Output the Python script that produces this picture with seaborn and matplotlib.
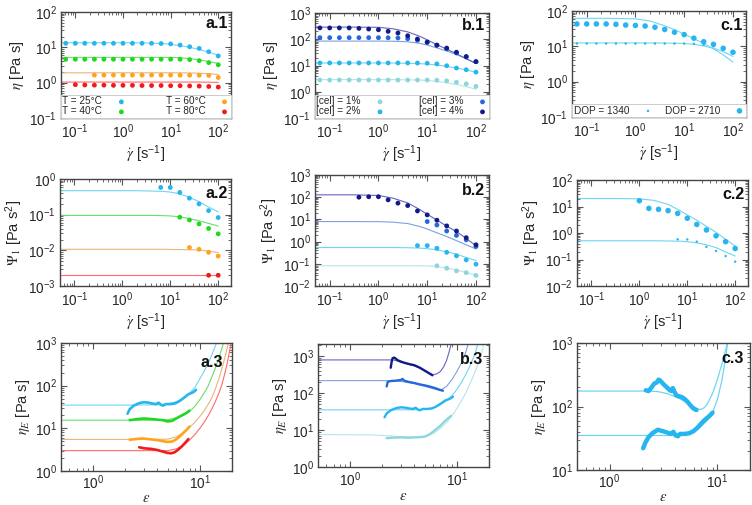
import matplotlib
matplotlib.use('Agg')
import matplotlib.pyplot as plt
import seaborn as sns
from matplotlib.ticker import LogLocator, NullFormatter

sns.set_theme(style='ticks')
plt.rcParams['font.family'] = ['Liberation Sans', 'DejaVu Sans']
plt.rcParams['mathtext.fontset'] = 'stix'

# ---------------- DATA ----------------
# shear-rate grid of the measured points (row 1)
gd = [0.063, 0.1, 0.158, 0.251, 0.398, 0.631, 1.0, 1.58, 2.51, 3.98, 6.31, 10.0, 15.8, 25.1, 39.8, 63.1, 100.0]
# shear-rate grid at which model curves were read (rows 1-2)
gl = [0.05, 0.1, 0.3, 1.0, 2.0, 4.0, 7.0, 10.0, 15.0, 25.0, 40.0, 60.0, 100.0]

temp_labels = ['T = 25°C', 'T = 40°C', 'T = 60°C', 'T = 80°C']
cel_labels = ['[cel] = 1%', '[cel] = 2%', '[cel] = 3%', '[cel] = 4%']
dop_labels = ['DOP = 1340', 'DOP = 2710']

# a.1 viscosity
a1_25 = [13, 13, 13, 13, 13, 13, 13, 13, 13, 13, 12.8, 12.5, 11.6, 10.4, 9.3, 7.5, 5.7]
a1_40 = [4.6, 4.6, 4.6, 4.6, 4.6, 4.6, 4.6, 4.6, 4.6, 4.6, 4.6, 4.6, 4.6, 4.5, 4.2, 3.7, 3.2]
a1_60 = [1.64, 1.64, 1.64, 1.64, 1.64, 1.64, 1.64, 1.64, 1.64, 1.63, 1.63, 1.62, 1.6, 1.4]
a1_80 = [0.88, 0.86, 0.85, 0.85, 0.84, 0.84, 0.84, 0.83, 0.83, 0.83, 0.82, 0.82, 0.81, 0.8, 0.78, 0.75]
a1_25_fit = [13.5, 13.5, 13.5, 13.5, 13.4, 13.2, 12.7, 12.2, 11.3, 10.0, 8.7, 7.5, 6.0]
a1_40_fit = [5.2, 5.2, 5.2, 5.2, 5.2, 5.2, 5.2, 5.2, 5.1, 4.8, 4.4, 4.0, 3.5]
a1_60_fit = [1.9, 1.9, 1.9, 1.9, 1.9, 1.9, 1.9, 1.9, 1.9, 1.88, 1.85, 1.8, 1.7]
a1_80_fit = [1.04, 1.04, 1.04, 1.04, 1.04, 1.04, 1.04, 1.04, 1.04, 1.04, 1.04, 1.03, 1.02]

# b.1 viscosity
b1_1 = [2.8, 2.8, 2.8, 2.8, 2.8, 2.8, 2.8, 2.8, 2.8, 2.8, 2.8, 2.8, 2.75, 2.6, 2.3, 2.0, 1.6]
b1_2 = [12.5, 12.5, 12.5, 12.5, 12.5, 12.5, 12.5, 12.5, 12.5, 12.5, 12.4, 12.2, 11.5, 9.8, 8.0, 6.9, 5.6]
b1_3 = [115, 115, 115, 115, 115, 115, 115, 114, 112, 105, 91, 76, 59, 43, 30, 21, 14]
b1_4 = [270, 270, 270, 270, 260, 245, 230, 200, 173, 136, 102, 78, 60, 46, 32, 22, 14]
b1_1_fit = [2.9, 2.9, 2.9, 2.9, 2.9, 2.85, 2.8, 2.7, 2.5, 2.2, 1.9, 1.6, 1.25]
b1_2_fit = [12.5, 12.5, 12.5, 12.5, 12.4, 12.2, 11.8, 11.3, 10.5, 9.2, 8.0, 6.9, 5.5]
b1_3_fit = [85, 85, 85, 85, 84, 80, 70, 60, 48, 36, 26, 19, 12]
b1_4_fit = [290, 290, 290, 285, 250, 190, 130, 95, 65, 42, 28, 19, 12]

# c.1 viscosity
c1_1340 = [12, 12, 12, 12, 12, 12, 12, 12, 12, 12, 12, 12, 11.8, 11, 10, 8.5, 7]
c1_2710 = [43, 43, 43, 43, 42, 40, 39, 37.6, 34.6, 30, 25, 21.5, 17, 13.5, 11.4, 8.8, 6.8]
c1_1340_fit = [12.5, 12.5, 12.5, 12.5, 12.5, 12.4, 12.2, 12.0, 11.5, 10.3, 8.8, 7.3, 5.2]
c1_2710_fit = [62, 62, 62, 60, 52, 38, 28, 22, 17, 12, 8.5, 6, 3.6]

# a.2 first normal stress coefficient
a2_25_x = [6.31, 10.0, 15.8, 25.1, 39.8, 63.1, 100.0]
a2_25 = [0.58, 0.58, 0.42, 0.29, 0.2, 0.13, 0.083]
a2_40_x = [15.8, 25.1, 39.8, 63.1, 100.0]
a2_40 = [0.085, 0.071, 0.055, 0.041, 0.029]
a2_60_x = [25.1, 39.8, 63.1, 100.0]
a2_60 = [0.012, 0.0107, 0.0088, 0.0069]
a2_80_x = [63.1, 100.0]
a2_80 = [0.002, 0.002]
a2_25_fit = [0.47, 0.47, 0.47, 0.47, 0.47, 0.46, 0.45, 0.43, 0.39, 0.31, 0.23, 0.17, 0.12]
a2_40_fit = [0.095, 0.095, 0.095, 0.095, 0.095, 0.095, 0.094, 0.092, 0.088, 0.078, 0.067, 0.058, 0.048]
a2_60_fit = [0.0107, 0.0107, 0.0107, 0.0107, 0.0107, 0.0107, 0.0107, 0.0106, 0.0105, 0.0104, 0.0102, 0.0096, 0.0087]
a2_80_fit = [0.0021, 0.0021, 0.0021, 0.0021, 0.0021, 0.0021, 0.0021, 0.0021, 0.0021, 0.0021, 0.0021, 0.0021, 0.0021]

# b.2
b2_1_x = [15.8, 25.1, 39.8, 63.1, 100.0]
b2_1 = [0.081, 0.063, 0.048, 0.04, 0.03]
b2_2_x = [6.31, 10.0, 15.8, 25.1, 39.8, 63.1, 100.0]
b2_2 = [0.66, 0.66, 0.5, 0.33, 0.23, 0.15, 0.096]
b2_3_x = [10.0, 15.8, 25.1, 39.8, 63.1, 100.0]
b2_3 = [8.0, 5.6, 3.0, 1.9, 1.2, 0.6]
b2_4_x = [0.398, 0.631, 1.0, 1.58, 2.51, 3.98, 6.31, 10.0, 15.8, 25.1, 39.8, 63.1, 100.0]
b2_4 = [100, 105, 105, 76, 54, 42, 24, 16, 9.2, 5.1, 3.0, 1.5, 0.72]
b2_1_fit = [0.082, 0.082, 0.082, 0.082, 0.082, 0.082, 0.081, 0.08, 0.075, 0.065, 0.053, 0.042, 0.031]
b2_2_fit = [0.54, 0.54, 0.54, 0.54, 0.54, 0.53, 0.51, 0.48, 0.43, 0.35, 0.27, 0.2, 0.14]
b2_3_fit = [8, 8, 8, 7.9, 7.5, 6.5, 4.8, 3.7, 2.6, 1.7, 1.1, 0.75, 0.47]
b2_4_fit = [128, 128, 128, 120, 90, 55, 28, 17, 10, 5, 2.8, 1.5, 0.65]

# c.2
c2_1340_x = [6.31, 10.0, 15.8, 25.1, 39.8, 63.1, 100.0]
c2_1340 = [0.58, 0.57, 0.47, 0.3, 0.21, 0.135, 0.083]
c2_2710_x = [1.0, 1.58, 2.51, 3.98, 6.31, 10.0, 15.8, 25.1, 39.8, 63.1, 100.0]
c2_2710 = [16.5, 8.5, 7.8, 7.0, 5.5, 3.6, 2.1, 1.3, 0.78, 0.47, 0.26]
c2_1340_fit = [0.51, 0.51, 0.51, 0.51, 0.51, 0.5, 0.49, 0.47, 0.43, 0.36, 0.28, 0.2, 0.135]
c2_2710_fit = [20, 20, 20, 19.5, 17, 12, 7, 4.8, 3.2, 1.8, 1.05, 0.62, 0.32]

# a.3 extensional viscosity: model curves
a3_25_fit_e = [0.5, 2, 4, 5, 6, 7, 8, 9, 10, 11, 12, 13, 14, 15]
a3_25_fit = [35, 35, 35.5, 37.5, 42, 50, 66, 92, 145, 220, 340, 540, 860, 1400]
a3_40_fit_e = [0.5, 3, 4, 5, 6, 7, 8, 9, 10, 11, 12, 13, 14, 15, 16, 17]
a3_40_fit = [15.5, 15.5, 15.6, 16, 17.5, 20, 25, 33, 47, 68, 100, 165, 265, 430, 720, 1200]
a3_60_fit_e = [0.5, 3, 4, 5, 6, 7, 8, 9, 10, 11, 12, 13, 14, 15, 16, 17, 18, 19]
a3_60_fit = [5.5, 5.5, 5.5, 5.6, 6.3, 7.8, 10.5, 14, 19, 26, 37, 53, 85, 140, 240, 420, 750, 1350]
a3_80_fit_e = [0.5, 3, 4, 5, 6, 7, 8, 9, 10, 11, 12, 13, 14, 15, 16, 17, 18, 19, 20]
a3_80_fit = [3.0, 3.0, 3.0, 3.0, 3.3, 4.0, 5.3, 7.2, 10, 14, 20, 29, 43, 65, 100, 180, 330, 650, 1300]
# a.3 measured
a3_25_e = [2.1, 2.2, 2.4, 2.7, 3.0, 3.3, 3.6, 3.9, 4.1, 4.3, 4.5, 4.8, 5.3, 5.8, 6.3, 6.8, 7.3, 7.8, 8.3, 8.8, 9.2]
a3_25 = [22, 28, 34, 39, 41, 40, 38, 37, 40, 36, 34, 37, 37, 38, 42, 48, 55, 63, 67, 72, 80]
a3_40_e = [2.2, 2.6, 3.0, 3.5, 4.0, 4.5, 5.0, 5.5, 6.0, 6.5, 7.0, 7.5, 8.0]
a3_40 = [15.5, 16.5, 17, 16.5, 16, 15.5, 14.5, 15, 17, 19, 21, 23, 26]
a3_60_e = [2.2, 2.5, 2.9, 3.5, 4.0, 4.5, 5.0, 5.5, 6.0, 6.5, 7.0, 7.5, 8.0]
a3_60 = [5.4, 5.6, 5.8, 5.5, 5.3, 5.0, 4.8, 4.9, 5.5, 6.5, 7.8, 9.2, 11]
a3_80_e = [2.7, 3.0, 3.5, 4.0, 4.5, 5.0, 5.4, 5.8, 6.3, 6.8, 7.3, 7.8]
a3_80 = [3.6, 3.4, 3.3, 3.1, 2.85, 2.65, 2.6, 2.75, 3.2, 3.8, 4.6, 5.6]

# b.3 model curves
b3_1_fit_e = [0.5, 1.5, 2.2, 3, 4, 5, 6, 7, 8, 9, 10, 11, 12, 13, 14, 15, 16, 17, 17.8]
b3_1_fit = [7.5, 7.4, 7.0, 6.6, 6.4, 6.6, 8, 11, 16, 24, 38, 60, 95, 155, 250, 410, 680, 1150, 2000]
b3_2_fit_e = [0.5, 4, 5, 6, 7, 8, 9, 10, 11, 12, 13, 14, 15, 15.6]
b3_2_fit = [35, 35, 36, 40, 48, 62, 85, 125, 190, 300, 480, 780, 1300, 2000]
b3_3_fit_e = [0.5, 2.2, 3, 4, 5, 6, 7, 8, 9, 10, 11, 12, 12.7]
b3_3_fit = [215, 215, 205, 180, 152, 130, 117, 150, 230, 380, 640, 1150, 2000]
b3_4_fit_e = [0.5, 2.4, 2.6, 3, 3.5, 4, 4.5, 5, 5.5, 6, 6.5, 7, 7.5, 8, 8.5, 8.8]
b3_4_fit = [780, 780, 770, 680, 600, 540, 470, 400, 345, 310, 330, 380, 500, 750, 1350, 2000]
# b.3 measured
b3_1_e = [2.2, 2.5, 3.0, 3.5, 4.0, 4.5, 5.0, 5.5, 6.0, 6.5, 7.0, 7.5, 8.0, 8.5, 8.8]
b3_1 = [6.0, 6.2, 6.3, 6.2, 6.3, 6.4, 6.6, 7.5, 9, 11, 13, 16, 19, 22, 24]
b3_2_e = a3_25_e
b3_2 = a3_25
b3_3_e = [2.2, 2.25, 2.4, 2.7, 3.0, 3.1, 3.2, 3.5, 4.0, 4.5, 5.0, 5.5, 6.0, 6.5, 7.0, 7.4]
b3_3 = [150, 200, 210, 215, 225, 240, 215, 200, 185, 170, 160, 150, 140, 130, 120, 115]
b3_4_e = [2.4, 2.45, 2.5, 2.6, 2.8, 3.0, 3.3, 3.6, 4.0, 4.5, 5.0, 5.5, 5.9]
b3_4 = [480, 700, 870, 900, 760, 700, 640, 600, 560, 480, 400, 340, 300]

# c.3 model curves
c3_1340_fit_e = [0.5, 4, 5, 6, 7, 8, 9, 10, 11, 12, 12.5]
c3_1340_fit = [35, 35, 36, 40, 48, 60, 80, 130, 260, 650, 1100]
c3_2710_fit_e = [0.5, 2.2, 2.8, 3.5, 4.5, 5.5, 6.5, 7, 7.5, 8, 9, 10, 11, 12, 12.5]
c3_2710_fit = [175, 175, 172, 158, 132, 108, 92, 90, 95, 108, 160, 270, 470, 820, 1100]
# c.3 measured
c3_1340_e = [2.05, 2.15, 2.3, 2.5, 2.8, 3.1, 3.4, 3.7, 3.9, 4.1, 4.3, 4.5, 5.0, 5.5, 6.0, 6.5, 7.0, 7.5, 8.0, 8.5, 9.0]
c3_1340 = [22, 27, 33, 38, 43, 41, 39, 37, 40, 35, 34, 37, 37, 38, 41, 46, 53, 60, 66, 72, 80]
c3_2710_e = [2.17, 2.3, 2.45, 2.6, 2.75, 2.85, 2.95, 3.05, 3.2, 3.4, 3.6, 3.75, 3.85, 3.95, 4.15, 4.4, 4.7, 5.0, 5.3, 5.6, 5.9, 6.2, 6.4]
c3_2710 = [180, 175, 200, 230, 240, 265, 255, 240, 220, 200, 182, 175, 195, 178, 150, 145, 140, 130, 118, 105, 95, 90, 88]

# ---------------- COLOURS ----------------
CYAN, CYAN_L = '#27b5ef', '#6ed6f2'
GREEN, GREEN_L = '#1fd81f', '#66e066'
ORANGE, ORANGE_L = '#ffa31a', '#e8b57a'
RED, RED_L = '#ee1c1c', '#ff6a6a'
AQUA, AQUA_L = '#8fd6dc', '#b4e6e8'
BLUE, BLUE_L = '#2567dc', '#7f9fe0'
NAVY, NAVY_L = '#121a86', '#6464c0'

# ---------------- FIGURE ----------------
W, H = 752, 505
fig = plt.figure(figsize=(W / 100, H / 100), dpi=100)


def add_ax(l, t, r, b):
    return fig.add_axes([l / W, 1 - b / H, (r - l) / W, (b - t) / H])


def pts(ax, x, y, c, s=12, label=None):
    sns.scatterplot(x=x, y=y, ax=ax, color=c, s=s, edgecolor='none', linewidth=0,
                    label=label, legend=False, zorder=3)


def curve(ax, x, y, c, lw=0.8, z=2):
    sns.lineplot(x=x, y=y, ax=ax, color=c, lw=lw, estimator=None, sort=False,
                 legend=False, zorder=z)


def style(ax, xlim, ylim, xlabel, ylabel, tag, tagxy, xpad=2, tpad=3):
    ax.set_xscale('log')
    ax.set_yscale('log')
    ax.set_xlim(*xlim)
    ax.set_ylim(*ylim)
    for a in (ax.xaxis, ax.yaxis):
        a.set_major_locator(LogLocator(base=10, numticks=12))
        a.set_minor_locator(LogLocator(base=10, subs=range(2, 10), numticks=12))
        a.set_minor_formatter(NullFormatter())
    ax.tick_params(which='both', direction='in', top=True, right=True,
                   color='#555555', labelsize=9.8, pad=3)
    ax.tick_params(axis='x', which='both', pad=tpad)
    ax.tick_params(which='major', length=4, width=0.8)
    ax.tick_params(which='minor', length=2, width=0.6)
    for sp in ax.spines.values():
        sp.set_color('#444444')
        sp.set_linewidth(1.0)
    ax.set_xlabel(xlabel, fontsize=10.5, labelpad=xpad)
    ax.set_ylabel(ylabel, fontsize=10.5, labelpad=2)
    ax.text(tagxy[0], tagxy[1], tag, transform=ax.transAxes, ha='right', va='center',
            fontsize=11.5, fontweight='bold', color='#111111', zorder=6)


def legend(ax, ncol, height):
    leg = ax.legend(loc='lower left', bbox_to_anchor=(0.0, 0.0, 1.0, height), mode='expand',
                    ncol=ncol, markerfirst=False, fontsize=7.2, frameon=True, fancybox=False,
                    borderaxespad=0, handlelength=1.0, handletextpad=1.4, borderpad=0.15,
                    labelspacing=0.0, framealpha=1)
    leg.get_frame().set_edgecolor('#cccccc')
    leg.get_frame().set_linewidth(0.7)
    leg.set_zorder(5)


XG = r'$\dot{\gamma}$ [s$^{\mathdefault{-1}}$]'
ETA = r'$\eta$ [Pa s]'
PSI = r'$\Psi_1$ [Pa s$^{\mathdefault{2}}$]'
ETAE = r'$\eta_E$ [Pa s]'
EPS = r'$\varepsilon$'
SHEAR_X = (0.05, 185)
EXT_X = (0.5, 20)

# ---- a.1 ----
ax = add_ax(61, 12, 231, 118)
ax.set_xscale('log'); ax.set_yscale('log')
curve(ax, gl, a1_25_fit, CYAN_L)
curve(ax, gl, a1_40_fit, GREEN_L)
curve(ax, gl, a1_60_fit, ORANGE_L)
curve(ax, gl, a1_80_fit, RED_L)
pts(ax, gd, a1_25, CYAN, label=temp_labels[0])
pts(ax, gd, a1_40, GREEN, label=temp_labels[1])
pts(ax, gd[3:], a1_60, ORANGE, label=temp_labels[2])
pts(ax, gd[1:], a1_80, RED, label=temp_labels[3])
style(ax, SHEAR_X, (0.1, 100), XG, ETA, 'a.1', (0.98, 0.89))
legend(ax, 2, 0.19)

# ---- b.1 ----
ax = add_ax(315, 13, 489, 118)
ax.set_xscale('log'); ax.set_yscale('log')
curve(ax, gl, b1_1_fit, AQUA_L)
curve(ax, gl, b1_2_fit, CYAN_L)
curve(ax, gl, b1_3_fit, BLUE_L)
curve(ax, gl, b1_4_fit, NAVY_L)
pts(ax, gd, b1_1, AQUA, label=cel_labels[0])
pts(ax, gd, b1_2, CYAN, label=cel_labels[1])
pts(ax, gd, b1_3, BLUE, label=cel_labels[2])
pts(ax, gd, b1_4, NAVY, label=cel_labels[3])
style(ax, SHEAR_X, (0.1, 1000), XG, ETA, 'b.1', (0.98, 0.88))
legend(ax, 2, 0.19)

# ---- c.1 ----
ax = add_ax(572, 11, 746, 117)
ax.set_xscale('log'); ax.set_yscale('log')
curve(ax, gl, c1_1340_fit, CYAN_L)
curve(ax, gl, c1_2710_fit, CYAN_L)
pts(ax, gd, c1_1340, CYAN, s=3, label=dop_labels[0])
pts(ax, gd, c1_2710, CYAN, s=16, label=dop_labels[1])
style(ax, SHEAR_X, (0.1, 100), XG, ETA, 'c.1', (0.98, 0.86))
legend(ax, 2, 0.11)

# ---- a.2 ----
ax = add_ax(60, 179, 231, 286)
ax.set_xscale('log'); ax.set_yscale('log')
curve(ax, gl, a2_25_fit, CYAN_L)
curve(ax, gl, a2_40_fit, GREEN_L)
curve(ax, gl, a2_60_fit, ORANGE_L)
curve(ax, gl, a2_80_fit, RED_L)
pts(ax, a2_25_x, a2_25, CYAN)
pts(ax, a2_40_x, a2_40, GREEN)
pts(ax, a2_60_x, a2_60, ORANGE)
pts(ax, a2_80_x, a2_80, RED)
style(ax, SHEAR_X, (1e-3, 1), XG, PSI, 'a.2', (0.98, 0.86))

# ---- b.2 ----
ax = add_ax(315, 175, 489, 286)
ax.set_xscale('log'); ax.set_yscale('log')
curve(ax, gl, b2_1_fit, AQUA_L)
curve(ax, gl, b2_2_fit, CYAN_L)
curve(ax, gl, b2_3_fit, BLUE_L)
curve(ax, gl, b2_4_fit, NAVY_L)
pts(ax, b2_1_x, b2_1, AQUA)
pts(ax, b2_2_x, b2_2, CYAN)
pts(ax, b2_3_x, b2_3, BLUE)
pts(ax, b2_4_x, b2_4, NAVY)
style(ax, SHEAR_X, (1e-2, 1e3), XG, PSI, 'b.2', (0.98, 0.86))

# ---- c.2 ----
ax = add_ax(577, 180, 748, 286)
ax.set_xscale('log'); ax.set_yscale('log')
curve(ax, gl, c2_1340_fit, CYAN_L)
curve(ax, gl, c2_2710_fit, CYAN_L)
pts(ax, c2_1340_x, c2_1340, CYAN, s=3)
pts(ax, c2_2710_x, c2_2710, CYAN, s=16)
style(ax, SHEAR_X, (1e-2, 1e2), XG, PSI, 'c.2', (0.98, 0.86))

# ---- a.3 ----
ax = add_ax(61, 343, 232, 471)
ax.set_xscale('log'); ax.set_yscale('log')
curve(ax, a3_25_fit_e, a3_25_fit, CYAN_L)
curve(ax, a3_40_fit_e, a3_40_fit, GREEN_L)
curve(ax, a3_60_fit_e, a3_60_fit, ORANGE_L)
curve(ax, a3_80_fit_e, a3_80_fit, RED_L)
curve(ax, a3_25_e, a3_25, CYAN, lw=1.9, z=3)
curve(ax, a3_40_e, a3_40, GREEN, lw=1.9, z=3)
curve(ax, a3_60_e, a3_60, ORANGE, lw=1.9, z=3)
curve(ax, a3_80_e, a3_80, RED, lw=1.9, z=3)
style(ax, EXT_X, (1, 1000), EPS, ETAE, 'a.3', (0.95, 0.85), xpad=-1, tpad=2)

# ---- b.3 ----
ax = add_ax(318, 344, 489, 467)
ax.set_xscale('log'); ax.set_yscale('log')
curve(ax, b3_1_fit_e, b3_1_fit, AQUA_L)
curve(ax, b3_2_fit_e, b3_2_fit, CYAN_L)
curve(ax, b3_3_fit_e, b3_3_fit, BLUE_L)
curve(ax, b3_4_fit_e, b3_4_fit, NAVY_L)
curve(ax, b3_1_e, b3_1, AQUA, lw=1.7, z=3)
curve(ax, b3_2_e, b3_2, CYAN, lw=1.7, z=3)
curve(ax, b3_3_e, b3_3, BLUE, lw=1.7, z=3)
curve(ax, b3_4_e, b3_4, NAVY, lw=1.7, z=3)
style(ax, EXT_X, (1, 2100), EPS, ETAE, 'b.3', (0.965, 0.87), xpad=0, tpad=2.5)

# ---- c.3 ----
ax = add_ax(577, 343, 750, 470)
ax.set_xscale('log'); ax.set_yscale('log')
curve(ax, c3_1340_fit_e, c3_1340_fit, CYAN_L, lw=0.9)
curve(ax, c3_2710_fit_e, c3_2710_fit, CYAN_L, lw=0.9)
curve(ax, c3_1340_e, c3_1340, CYAN, lw=3.2, z=3)
curve(ax, c3_2710_e, c3_2710, CYAN, lw=3.2, z=3)
style(ax, EXT_X, (10, 1000), EPS, ETAE, 'c.3', (0.965, 0.88), xpad=-1, tpad=2)

fig.savefig('out.png', dpi=100, facecolor='white')
